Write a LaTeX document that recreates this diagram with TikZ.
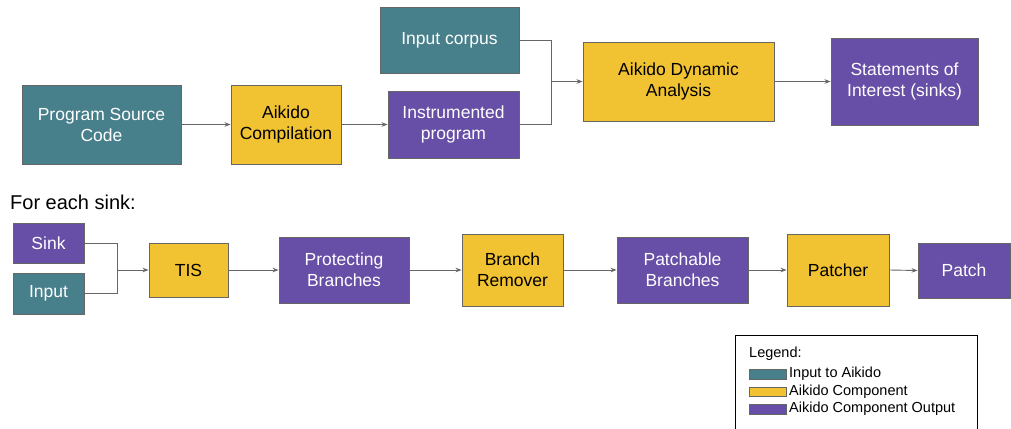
\documentclass[tikz,border=0pt]{standalone}
\usepackage{fontspec}
\setmainfont{Liberation Sans}
\usetikzlibrary{arrows.meta}
\definecolor{cteal}{HTML}{477F8A}
\definecolor{cyellow}{HTML}{F1C232}
\definecolor{cpurple}{HTML}{674EA7}
\definecolor{cborder}{HTML}{666666}
\tikzset{
  box/.style={draw=cborder, line width=0.9pt, inner sep=0pt, align=center, font=\fontsize{17.5}{21}\selectfont},
  inbox/.style={box, fill=cteal, text=white},
  compbox/.style={box, fill=cyellow, text=black},
  outbox/.style={box, fill=cpurple, text=white},
  conn/.style={draw=cborder, line width=0.9pt},
  arr/.style={conn, -{Stealth[length=6pt,width=4.5pt]}},
  swatch/.style={draw=cborder, line width=0.7pt, minimum width=37pt, minimum height=9.5pt, inner sep=0pt},
  legtext/.style={anchor=west, inner sep=0pt, font=\fontsize{14.5}{17}\selectfont}
}
\begin{document}
\begin{tikzpicture}[x=1pt, y=-1pt]
\useasboundingbox (0,0) rectangle (1011,428);
% top row
\node[inbox, minimum width=159pt, minimum height=79pt] (psc) at (101.5,124.5) {Program Source\\Code};
\node[compbox, minimum width=110pt, minimum height=79pt] (ac) at (286,124.5) {Aikido\\Compilation};
\node[outbox, minimum width=131pt, minimum height=67pt] (ip) at (453.5,124.5) {Instrumented\\program};
\node[inbox, minimum width=139pt, minimum height=66pt] (ic) at (449.5,40) {Input corpus};
\node[compbox, minimum width=191pt, minimum height=79pt] (ada) at (678.5,81.5) {Aikido Dynamic\\Analysis};
\node[outbox, minimum width=147pt, minimum height=87pt] (soi) at (904.5,81.5) {Statements of\\Interest (sinks)};
\coordinate (j1) at (551,81.5);
\draw[arr] (psc.east) -- (ac.west);
\draw[arr] (ac.east) -- (ip.west);
\draw[conn] (ic.east) -| (j1);
\draw[conn] (ip.east) -| (j1);
\draw[arr] (j1) -- (ada.west);
\draw[arr] (ada.east) -- (soi.west);
% bottom row
\node[anchor=west, inner sep=0pt, font=\fontsize{20}{24}\selectfont] (fes) at (10,202) {For each sink:};
\node[outbox, minimum width=71pt, minimum height=40pt] (sink) at (48.5,243) {Sink};
\node[inbox, minimum width=71pt, minimum height=41pt] (inp) at (48.5,293.5) {Input};
\node[compbox, minimum width=79pt, minimum height=54pt] (tis) at (188.5,270) {TIS};
\node[outbox, minimum width=130pt, minimum height=66pt] (pb) at (344,270) {Protecting\\Branches};
\node[compbox, minimum width=101pt, minimum height=72pt] (br) at (512.5,270) {Branch\\Remover};
\node[outbox, minimum width=131pt, minimum height=66pt] (pab) at (682.5,270) {Patchable\\Branches};
\node[compbox, minimum width=102pt, minimum height=72pt] (pat) at (838,270) {Patcher};
\node[outbox, minimum width=92pt, minimum height=55pt] (patch) at (964,270.5) {Patch};
\coordinate (j2) at (117,270);
\draw[conn] (sink.east) -| (j2);
\draw[conn] (inp.east) -| (j2);
\draw[arr] (j2) -- (tis.west);
\draw[arr] (tis.east) -- (pb.west);
\draw[arr] (pb.east) -- (br.west);
\draw[arr] (br.east) -- (pab.west);
\draw[arr] (pab.east) -- (pat.west);
\draw[arr] (pat.east) -- (patch.west);
% legend
\draw[black, line width=0.9pt] (735,430) -- (735,335) -- (977,335) -- (977,430);
\node[legtext] (lg) at (749,354) {Legend:};
\node[swatch, fill=cteal] (s1) at (767.5,374.5) {};
\node[swatch, fill=cyellow] (s2) at (767.5,392) {};
\node[swatch, fill=cpurple] (s3) at (767.5,409.5) {};
\node[legtext] (l1) at (789,374) {Input to Aikido};
\node[legtext] (l2) at (789,391.5) {Aikido Component};
\node[legtext] (l3) at (789,409) {Aikido Component Output};
\end{tikzpicture}
\end{document}
